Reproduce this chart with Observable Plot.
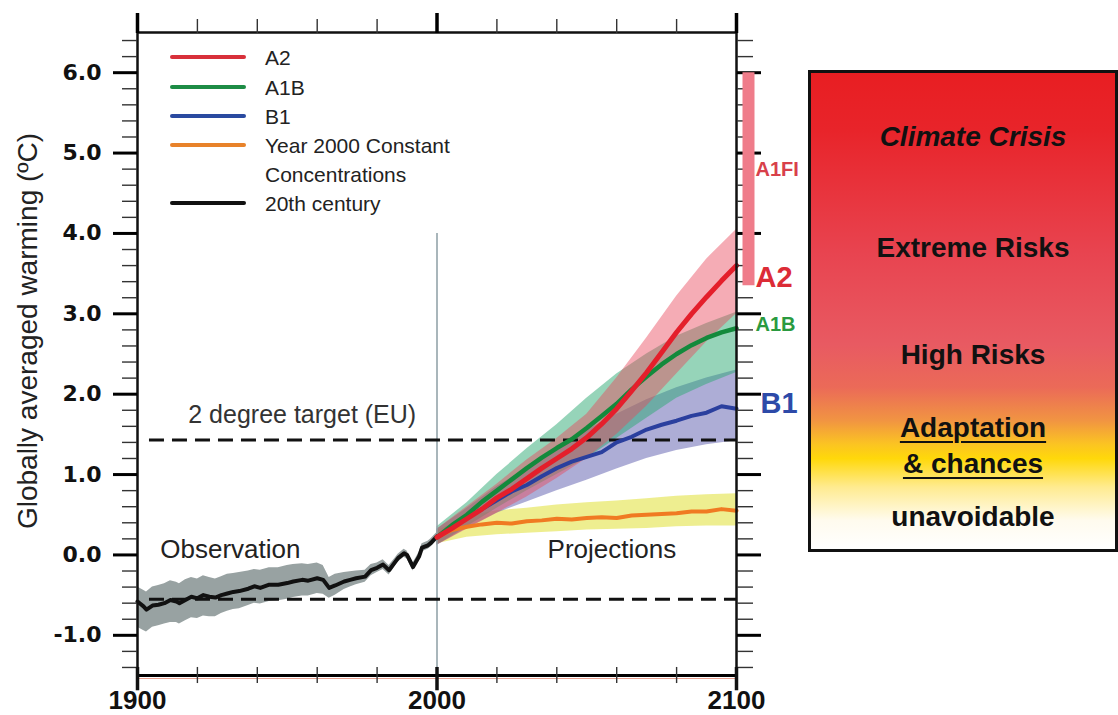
<!DOCTYPE html>
<html>
<head>
<meta charset="utf-8">
<script src="https://cdn.jsdelivr.net/npm/d3@7"></script>
<script src="https://cdn.jsdelivr.net/npm/@observablehq/plot@0.6"></script>
<style>
html, body { margin: 0; padding: 0; background: #fff; }
#wrap { position: relative; width: 1118px; height: 715px; overflow: hidden; font-family: 'Liberation Sans', Arial, sans-serif; }
#wrap svg { position: absolute; left: 0; top: 0; }
.lgline { position: absolute; height: 4px; border-radius: 2px; }
.lgtext { position: absolute; font-size: 21px; line-height: 29px; color: #222; white-space: nowrap; }
#risk { position: absolute; left: 808px; top: 70px; width: 304px; height: 476px; border: 3px solid #111;
  background: linear-gradient(to bottom, #e81e22 0%, #e8242a 12%, #e84450 38%, #e85a62 57%, #eb6a58 66%, #f19442 73%, #fbc422 78%, #ffd80a 81%, #ffeb90 87%, #fffbee 94%, #ffffff 100%); }
.rt { position: absolute; left: 808px; width: 330px; text-align: center; font-size: 28px; line-height: 28px; font-weight: bold; color: #111; white-space: nowrap; }
.rt span.u { text-decoration: underline; text-decoration-thickness: 2px; text-underline-offset: 4px; }
</style>
</head>
<body>
<div id="wrap"></div>
<script>
// ---------- data ----------
const scenarioNames = ["A2", "A1B", "B1", "Year 2000 Constant Concentrations", "20th century"];

// 20th century observations (anomaly, °C) and uncertainty band
const obsYears = [1900,1902,1903,1905,1907,1909,1911,1913,1914,1916,1918,1920,1922,1924,1926,1928,1930,1932,1934,1937,1939,1941,1944,1947,1950,1952,1955,1957,1960,1962,1964,1966,1969,1971,1973,1976,1978,1980,1982,1984,1986,1987,1989,1990,1992,1994,1995,1997,1998,2000];
const obsTemp  = [-0.58,-0.64,-0.68,-0.63,-0.62,-0.60,-0.56,-0.58,-0.60,-0.56,-0.52,-0.54,-0.50,-0.52,-0.53,-0.50,-0.48,-0.46,-0.45,-0.42,-0.39,-0.41,-0.37,-0.37,-0.35,-0.33,-0.31,-0.32,-0.29,-0.31,-0.41,-0.38,-0.33,-0.31,-0.29,-0.27,-0.19,-0.16,-0.12,-0.19,-0.09,-0.04,0.02,0.00,-0.15,-0.02,0.09,0.12,0.15,0.23];
const obsLow   = [-0.90,-0.94,-0.96,-0.90,-0.88,-0.86,-0.84,-0.84,-0.86,-0.82,-0.78,-0.79,-0.76,-0.77,-0.77,-0.73,-0.70,-0.68,-0.67,-0.63,-0.60,-0.61,-0.58,-0.57,-0.55,-0.53,-0.51,-0.51,-0.48,-0.49,-0.54,-0.50,-0.43,-0.40,-0.37,-0.34,-0.26,-0.22,-0.18,-0.25,-0.14,-0.09,-0.03,-0.05,-0.20,-0.07,0.04,0.07,0.10,0.18];
const obsHigh  = [-0.40,-0.44,-0.46,-0.40,-0.38,-0.36,-0.32,-0.34,-0.36,-0.31,-0.28,-0.30,-0.26,-0.28,-0.30,-0.27,-0.24,-0.23,-0.22,-0.20,-0.18,-0.19,-0.16,-0.16,-0.13,-0.12,-0.11,-0.12,-0.10,-0.13,-0.28,-0.24,-0.22,-0.21,-0.20,-0.19,-0.12,-0.10,-0.06,-0.13,-0.04,0.01,0.07,0.05,-0.10,0.03,0.14,0.17,0.20,0.28];

// projections: multi-model means
const projYears  = [2000,2005,2010,2015,2020,2025,2030,2035,2040,2045,2050,2055,2060,2065,2070,2075,2080,2085,2090,2095,2100];
const a2Mean     = [0.22,0.33,0.45,0.57,0.71,0.82,0.95,1.08,1.20,1.32,1.46,1.63,1.82,2.04,2.27,2.52,2.77,3.00,3.21,3.41,3.60];
const a1bMean    = [0.22,0.37,0.50,0.66,0.80,0.94,1.08,1.21,1.33,1.44,1.58,1.73,1.88,2.06,2.22,2.37,2.50,2.61,2.70,2.77,2.82];
const b1Mean     = [0.22,0.34,0.46,0.57,0.68,0.79,0.87,0.98,1.08,1.16,1.22,1.28,1.40,1.47,1.56,1.62,1.67,1.73,1.77,1.85,1.82];
const commitMean = [0.22,0.31,0.35,0.38,0.40,0.39,0.42,0.43,0.45,0.44,0.46,0.47,0.46,0.49,0.50,0.51,0.52,0.54,0.54,0.57,0.55];

// projections: ±1 sd bands
const bandYears  = [2000,2010,2020,2030,2040,2050,2060,2070,2080,2090,2100];
const a2Low      = [0.12,0.32,0.52,0.72,0.95,1.20,1.50,1.85,2.25,2.65,3.00];
const a2High     = [0.32,0.60,0.88,1.18,1.45,1.75,2.20,2.70,3.22,3.68,4.05];
const a1bLow     = [0.12,0.35,0.58,0.80,1.00,1.20,1.45,1.70,1.95,2.12,2.27];
const a1bHigh    = [0.35,0.65,1.00,1.32,1.62,1.95,2.25,2.50,2.72,2.88,3.02];
const b1Low      = [0.12,0.33,0.52,0.66,0.80,0.93,1.07,1.20,1.30,1.37,1.42];
const b1High     = [0.32,0.58,0.85,1.08,1.33,1.55,1.75,1.93,2.08,2.20,2.30];
const commitLow  = [0.14,0.22,0.25,0.27,0.29,0.31,0.32,0.33,0.35,0.36,0.36];
const commitHigh = [0.30,0.48,0.55,0.58,0.62,0.65,0.67,0.70,0.73,0.75,0.76];

// A1FI likely range at 2100
const a1fiRange = [3.35, 6.0];
// reference levels: 2 degree target and pre-industrial level
const targetLevel = 1.43;
const preindustrialLevel = -0.55;
const refLineStart = 1904;

// end-of-century labels
const endLabels = ["A1FI", "A2", "A1B", "B1"];
const endLabelY = [4.79, 3.45, 2.86, 1.88];

// axis ticks
const yMajorTicks = [-1, 0, 1, 2, 3, 4, 5, 6];
const yTickLabels = ["-1.0", "0.0", "1.0", "2.0", "3.0", "4.0", "5.0", "6.0"];
const yMinorTicks = d3.range(-14, 65, 2).map(v => v / 10).filter(v => Math.abs(v - Math.round(v)) > 0.01);
const xMajorTicks = [1900, 2000, 2100];
const xMinorTicks = [1920, 1940, 1960, 1980, 2020, 2040, 2060, 2080];

// risk scale
const riskLabels = ["Climate Crisis", "Extreme Risks", "High Risks", "Adaptation", "& chances", "unavoidable"];

// ---------- build tables ----------
const obsRows = obsYears.map((y, i) => ({year: y, t: obsTemp[i], lo: obsLow[i], hi: obsHigh[i]}));
const meanRows = (arr) => projYears.map((y, i) => ({year: y, t: arr[i]}));
const bandRows = (lo, hi) => bandYears.map((y, i) => ({year: y, lo: lo[i], hi: hi[i]}));

const FONT = "'Liberation Sans', Arial, sans-serif";
const colors = {A2: "#e41f2b", A1B: "#138a3c", B1: "#2a3f9e", commit: "#f07a22", obs: "#111111"};

const chart = Plot.plot({
  width: 1118, height: 715,
  marginLeft: 137, marginRight: 382, marginTop: 32, marginBottom: 40,
  x: {domain: [1900, 2100], axis: null},
  y: {domain: [-1.5, 6.5], axis: null},
  style: {fontFamily: FONT, background: "transparent", overflow: "visible"},
  marks: [
    // uncertainty bands
    Plot.areaY(bandRows(commitLow, commitHigh), {x: "year", y1: "lo", y2: "hi", fill: "rgb(226,226,70)", fillOpacity: 0.6}),
    Plot.areaY(bandRows(b1Low, b1High), {x: "year", y1: "lo", y2: "hi", fill: "rgb(105,105,180)", fillOpacity: 0.55}),
    Plot.areaY(bandRows(a1bLow, a1bHigh), {x: "year", y1: "lo", y2: "hi", fill: "rgb(45,170,115)", fillOpacity: 0.5}),
    Plot.areaY(bandRows(a2Low, a2High), {x: "year", y1: "lo", y2: "hi", fill: "rgb(232,70,90)", fillOpacity: 0.45}),
    Plot.areaY(obsRows, {x: "year", y1: "lo", y2: "hi", fill: "#98a2a2"}),
    // 2000 divider
    Plot.ruleX([2000], {y1: -1.5, y2: 4.0, stroke: "#8c9ea4", strokeWidth: 1.5}),
    // reference dashed lines
    Plot.ruleY([targetLevel, preindustrialLevel], {x1: refLineStart, x2: 2100, stroke: "#111", strokeWidth: 3, strokeDasharray: "15,8"}),
    // mean lines
    Plot.lineY(obsRows, {x: "year", y: "t", stroke: colors.obs, strokeWidth: 4}),
    Plot.lineY(meanRows(commitMean), {x: "year", y: "t", stroke: colors.commit, strokeWidth: 4}),
    Plot.lineY(meanRows(b1Mean), {x: "year", y: "t", stroke: colors.B1, strokeWidth: 4}),
    Plot.lineY(meanRows(a1bMean), {x: "year", y: "t", stroke: colors.A1B, strokeWidth: 4.5}),
    Plot.lineY(meanRows(a2Mean), {x: "year", y: "t", stroke: colors.A2, strokeWidth: 5}),
    // frame
    Plot.frame({stroke: "#111", strokeWidth: 2.5}),
    Plot.ruleY([-1.5], {stroke: "#e8a090", strokeWidth: 1, dy: 3}),
    Plot.ruleY([-1.5], {stroke: "#000", strokeWidth: 3}),
    // left axis
    Plot.axisY({anchor: "left", label: null, ticks: yMinorTicks, tickSize: 15, tickFormat: () => "", stroke: "#333", strokeWidth: 1.4}),
    Plot.axisY({anchor: "left", label: null, ticks: yMajorTicks, tickSize: 24, tickPadding: 12, strokeWidth: 3,
      tickFormat: (d) => yTickLabels[yMajorTicks.indexOf(d)],
      fontSize: 22, fontWeight: "bold", fontFamily: "'DejaVu Sans', sans-serif", fill: "#111"}),
    // right axis
    Plot.axisY({anchor: "right", label: null, ticks: yMinorTicks, tickSize: 16, tickFormat: () => "", stroke: "#333", strokeWidth: 1.4}),
    Plot.axisY({anchor: "right", label: null, ticks: yMajorTicks, tickSize: 24, tickFormat: () => "", strokeWidth: 3}),
    // top axis
    Plot.axisX({anchor: "top", label: null, ticks: xMinorTicks, tickSize: 14, tickFormat: () => "", stroke: "#333", strokeWidth: 1.4}),
    Plot.axisX({anchor: "top", label: null, ticks: xMajorTicks, tickSize: 20, tickFormat: () => "", strokeWidth: 3.5}),
    // bottom axis (ticks cross the baseline)
    Plot.ruleX(xMinorTicks, {y1: -1.4, y2: -1.6, stroke: "#333", strokeWidth: 1.4}),
    Plot.ruleX(xMajorTicks, {y1: -1.4, y2: -1.69, stroke: "#111", strokeWidth: 3.5}),
    Plot.axisX({anchor: "bottom", label: null, ticks: xMajorTicks, tickSize: 0, tickPadding: 15, tickFormat: d => String(d),
      fontSize: 26, fontWeight: "bold", fontFamily: FONT, fill: "#111"}),
    // A1FI range bar
    Plot.ruleX([2100], {y1: a1fiRange[0], y2: a1fiRange[1], dx: 12, stroke: "#ef7c8a", strokeWidth: 12}),
    // end labels
    Plot.text([0], {x: 2100, y: endLabelY[0], text: () => endLabels[0], dx: 19, textAnchor: "start", fontSize: 20, fontWeight: "bold", fill: "#d8404a"}),
    Plot.text([0], {x: 2100, y: endLabelY[1], text: () => endLabels[1], dx: 19, textAnchor: "start", fontSize: 29, fontWeight: "bold", fill: "#dc2c36"}),
    Plot.text([0], {x: 2100, y: endLabelY[2], text: () => endLabels[2], dx: 19, textAnchor: "start", fontSize: 20, fontWeight: "bold", fill: "#2a9a40"}),
    Plot.text([0], {x: 2100, y: endLabelY[3], text: () => endLabels[3], dx: 24, textAnchor: "start", fontSize: 29, fontWeight: "bold", fill: "#2d4aa8"}),
    // annotations
    Plot.text(["2 degree target (EU)"], {x: 1955, y: 1.74, text: d => d, fontSize: 25, fill: "#333"}),
    Plot.text(["Observation"], {x: 1931, y: 0.06, text: d => d, fontSize: 26, fill: "#222"}),
    Plot.text(["Projections"], {x: 2058.4, y: 0.06, text: d => d, fontSize: 26, fill: "#222"}),
    // y axis title
    Plot.text(["Globally averaged warming (ºC)"], {frameAnchor: "left", textAnchor: "middle", lineAnchor: "middle", text: d => d, rotate: -90, dx: -109, dy: -23, fontSize: 28, fill: "#222"})
  ]
});

const wrap = document.getElementById("wrap");
wrap.appendChild(chart);

// legend (HTML overlay)
const legendItems = [
  {label: scenarioNames[0], color: "#d8303a", y: 57},
  {label: scenarioNames[1], color: "#1d8c45", y: 87},
  {label: scenarioNames[2], color: "#2a4aa0", y: 116},
  {label: "Year 2000 Constant<br>Concentrations", color: "#e8822a", y: 145},
  {label: scenarioNames[4], color: "#111111", y: 203}
];
for (const it of legendItems) {
  const ln = document.createElement("div");
  ln.className = "lgline";
  ln.style.left = "170px"; ln.style.width = "76px"; ln.style.top = (it.y - 2) + "px";
  ln.style.background = it.color;
  wrap.appendChild(ln);
  const tx = document.createElement("div");
  tx.className = "lgtext";
  tx.style.left = "265px";
  tx.style.top = (it.y - 14) + "px";
  tx.innerHTML = it.label;
  wrap.appendChild(tx);
}

// risk scale box
const risk = document.createElement("div");
risk.id = "risk";
wrap.appendChild(risk);
const riskY = [137, 248, 355, 428, 464, 517];
riskLabels.forEach((lab, i) => {
  const d = document.createElement("div");
  d.className = "rt";
  d.style.top = (riskY[i] - 14) + "px";
  if (i === 0) d.style.fontStyle = "italic";
  if (i === 3 || i === 4) d.innerHTML = '<span class="u">' + lab + '</span>';
  else d.textContent = lab;
  wrap.appendChild(d);
});
</script>
</body>
</html>
